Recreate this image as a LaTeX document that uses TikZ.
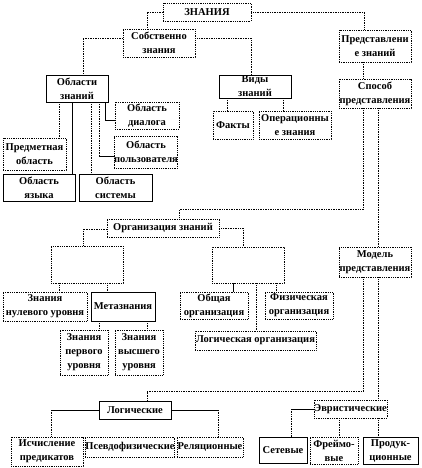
\documentclass[tikz,border=0pt]{standalone}
\usepackage{fontspec}
\setmainfont{Liberation Serif}
\newcommand{\fnt}{\fontsize{10.5}{14}\selectfont\bfseries}
\begin{document}
\begin{tikzpicture}[x=1pt,y=-1pt,
  bd/.style={draw, densely dotted, line width=0.8pt, inner sep=0pt, align=center, font=\fnt, fill=white},
  bs/.style={draw, line width=0.6pt, inner sep=0pt, align=center, font=\fnt, fill=white},
  cd/.style={densely dotted, line width=0.7pt},
  cs/.style={line width=0.6pt}]
\useasboundingbox (0,0) rectangle (422,468);
% boxes
\node[bd, minimum width=88pt, minimum height=18pt] (zn) at (207,12) {ЗНАНИЯ};
\node[bd, minimum width=72pt, minimum height=28pt] (sob) at (159,43) {Собственно\\знания};
\node[bd, minimum width=72pt, minimum height=32pt] (pred) at (375,46) {Представлени\\е знаний};
\node[bd, minimum width=72pt, minimum height=29pt] (spos) at (375,93.5) {Способ\\представления};
\node[bs, minimum width=62pt, minimum height=27pt] (obl) at (77,88.5) {Области\\знаний};
\node[bs, minimum width=72pt, minimum height=23pt] (vid) at (255,86.5) {Виды\\знаний};
\node[bd, minimum width=64pt, minimum height=27pt] (dial) at (147,115.5) {Область\\диалога};
\node[bd, minimum width=62pt, minimum height=32pt] (polz) at (146,152) {Область\\пользователя};
\node[bd, minimum width=63pt, minimum height=32pt] (pm) at (34.5,154) {Предметная\\область};
\node[bs, minimum width=72pt, minimum height=27pt] (yaz) at (39,187.5) {Область\\языка};
\node[bs, minimum width=73pt, minimum height=27pt] (sys) at (115.5,187.5) {Область\\системы};
\node[bd, minimum width=40pt, minimum height=28pt] (fakt) at (233,125) {Факты};
\node[bd, minimum width=72pt, minimum height=28pt] (oper) at (295,125) {Операционны\\е знания};
\node[bd, minimum width=112pt, minimum height=18pt] (org) at (163,228) {Организация знаний};
\node[bd, minimum width=72pt, minimum height=37pt] (e1) at (87,264.5) {};
\node[bd, minimum width=72pt, minimum height=36pt] (e2) at (248,265) {};
\node[bd, minimum width=72pt, minimum height=30pt] (mod) at (375,262) {Модель\\представления};
\node[bd, minimum width=84pt, minimum height=29pt] (z0) at (45,306.5) {Знания\\нулевого уровня};
\node[bs, minimum width=64pt, minimum height=29pt] (meta) at (123,306.5) {Метазнания};
\node[bd, minimum width=48pt, minimum height=45pt] (z1) at (84,352.5) {Знания\\первого\\уровня};
\node[bd, minimum width=48pt, minimum height=45pt] (zv) at (139,352.5) {Знания\\высшего\\уровня};
\node[bd, minimum width=68pt, minimum height=27pt] (obsh) at (214,305.5) {Общая\\организация};
\node[bd, minimum width=68pt, minimum height=27pt] (fiz) at (299,305.5) {Физическая\\организация};
\node[bd, minimum width=121pt, minimum height=19pt] (lo) at (255.5,340.5) {Логическая организация};
\node[bs, minimum width=72pt, minimum height=18pt] (logi) at (135,410) {Логические};
\node[bd, minimum width=73pt, minimum height=18pt] (evr) at (350.5,409) {Эвристические};
\node[bd, minimum width=72pt, minimum height=29pt] (isch) at (47,451.5) {Исчисление\\предикатов};
\node[bd, minimum width=88pt, minimum height=20pt] (psev) at (130,447) {Псевдофизические};
\node[bd, minimum width=66pt, minimum height=20pt] (rel) at (210,447) {Реляционные};
\node[bs, minimum width=48pt, minimum height=26pt] (set) at (283,450) {Сетевые};
\node[bd, minimum width=48pt, minimum height=27pt] (frm) at (334,450.5) {Фреймо-\\вые};
\node[bs, minimum width=55pt, minimum height=27pt] (prod) at (390.5,450.5) {Продук-\\ционные};
% connectors
\draw[cd] (zn.west) -| ([xshift=-12pt]sob.north);
\draw[cd] (zn.east) -| ([xshift=-11pt]pred.north);
\draw[cd] ([yshift=5pt]sob.west) -| ([xshift=6pt]obl.north);
\draw[cd] ([yshift=5pt]sob.east) -| ([xshift=-4pt]vid.north);
\draw[cd] ([xshift=-12pt]pred.south) -- ([xshift=-12pt]spos.north);
\draw[cd] ([xshift=-12pt]spos.south) |- ([xshift=16pt,yshift=9pt]org.north) -- ([xshift=16pt]org.north);
\draw[cd] ([xshift=3pt]spos.south) -- ([xshift=3pt]mod.north);
\draw[cd] ([xshift=-12pt]mod.south) |- ([xshift=12pt,yshift=9pt]logi.north) -- ([xshift=12pt]logi.north);
\draw[cd] ([xshift=3pt]mod.south) -- ([xshift=27.5pt]evr.north);
\draw[cd] ([xshift=27.5pt]evr.south) -- ([xshift=-12.5pt]prod.north);
\draw[cd] ([xshift=-11.5pt]evr.south) -- ([xshift=5pt]frm.north);
\coordinate (s1) at ([xshift=8pt]set.north);
\draw[cs] (evr.west) -- (s1 |- evr.west);
\draw[cd] (s1 |- evr.west) -- (s1);
\coordinate (i1) at ([xshift=4pt]isch.north);
\draw[cs] (logi.west) -- (i1 |- logi.west);
\draw[cd] (i1 |- logi.west) -- (i1);
\coordinate (r1) at ([xshift=8pt]rel.north);
\draw[cs] (logi.east) -- (r1 |- logi.east);
\draw[cd] (r1 |- logi.east) -- (r1);
% obl children
\draw[cd] ([xshift=-18pt]obl.south) -- ([xshift=24.5pt]pm.north);
\draw[cs] ([xshift=-5pt]obl.south) -- ([xshift=33pt]yaz.north);
\draw[cd] ([xshift=14pt]obl.south) -- ([xshift=-24.5pt]sys.north);
\coordinate (p1) at ([xshift=22pt]obl.south);
\coordinate (pw) at ([yshift=-4pt]polz.west);
\draw[cd] (p1) -- (p1 |- pw);
\draw[cs] (p1 |- pw) -- (pw);
\coordinate (p2) at ([xshift=28pt]obl.south);
\coordinate (dw) at ([yshift=-4.5pt]dial.west);
\draw[cs] (p2) |- (dw);
% vid children
\draw[cd] ([xshift=-28pt]vid.south) -- ([xshift=-6pt]fakt.north);
\draw[cd] ([xshift=28pt]vid.south) -- ([xshift=-12pt]oper.north);
% org
\draw[cd] ([yshift=-1pt]org.west) -| ([xshift=-4pt]e1.north);
\draw[cd] (org.east) -| ([xshift=-5pt]e2.north);
\draw[cd] ([xshift=-28pt]e1.south) -- ([xshift=14pt]z0.north);
\draw[cd] ([xshift=20pt]e1.south) -- ([xshift=-16pt]meta.north);
\draw[cd] ([xshift=-24pt]meta.south) -- ([xshift=15pt]z1.north);
\draw[cd] ([xshift=24pt]meta.south) -- ([xshift=8pt]zv.north);
\draw[cs] ([xshift=-15pt]e2.south) -- ([xshift=19pt]obsh.north);
\draw[cd] ([xshift=8pt]e2.south) -- ([xshift=0.5pt]lo.north);
\draw[cd] ([xshift=28pt]e2.south) -- ([xshift=-23pt]fiz.north);
\end{tikzpicture}
\end{document}
